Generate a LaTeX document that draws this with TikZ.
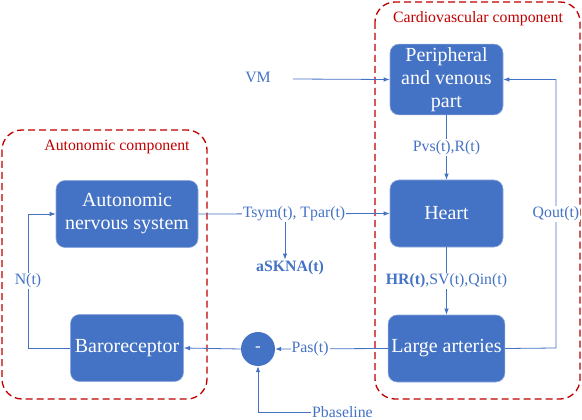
\documentclass[tikz,border=0pt]{standalone}
\usepackage{fontspec}
\setmainfont{Liberation Serif}
\usetikzlibrary{arrows.meta}
\definecolor{boxblue}{HTML}{4472C4}
\definecolor{edgeblue}{HTML}{8FAADC}
\definecolor{compred}{HTML}{C00000}
\tikzset{
  block/.style={draw=edgeblue, line width=0.6pt, fill=boxblue, text=white, rounded corners=9pt,
    minimum width=113pt, minimum height=67pt, align=center, font=\fontsize{20}{23}\selectfont},
  lbl/.style={text=boxblue, fill=white, inner sep=1pt, font=\fontsize{15.8}{18}\selectfont},
  comp/.style={draw=compred, line width=1.3pt, dash pattern=on 7pt off 4pt, rounded corners=20pt},
  comptitle/.style={text=compred, font=\fontsize{15.8}{18}\selectfont}
}
\begin{document}
    \begin{tikzpicture}[x=1pt, y=-1pt]
      \useasboundingbox (0,0) rectangle (582,420);
      \draw[comp] (2,130) rectangle (207,399);
      \draw[comp] (375,2) rectangle (580,399);
      \node[comptitle] (autotitle) at (117,147) {Autonomic component};
      \node[comptitle] (cardiotitle) at (478,19) {Cardiovascular component};
      \node[block, minimum width=142pt] (ans) at (127,214) {Autonomic\\nervous system};
      \node[block] (baro) at (127,348) {Baroreceptor};
      \node[block] (periph) at (446.5,79.5) {Peripheral\\and venous\\part};
      \node[block] (heart) at (446.5,213.5) {Heart};
      \node[block] (arter) at (446.5,348.5) {Large arteries};
      \node[circle, fill=boxblue, text=white, minimum size=34pt, inner sep=0pt,
        font=\fontsize{17}{20}\selectfont] (minus) at (258,349) {-};
      \node[lbl] (vm) at (258,77) {VM};
      \node[lbl, font=\fontsize{15.8}{18}\selectfont\bfseries] (skna) at (290,268) {aSKNA(t)};
      \node[lbl, anchor=west] (pbase) at (311,412) {Pbaseline};
      \coordinate (vmin) at (293,79);
      \coordinate (split) at (285,214);
      \coordinate (nleft) at (28,348);
      \coordinate (qright) at (556,348);
      \begin{scope}[draw=boxblue, line width=0.8pt, -{Latex[length=6pt,width=4.5pt]}]
        \draw (vmin) to (periph.west);
        \draw (split) to (split |- skna.north);
        \draw (periph.south) to node[lbl] {Pvs(t),R(t)} (heart.north);
        \draw (ans.east) to node[lbl] {Tsym(t), Tpar(t)} (heart.west);
        \draw (heart.south) to node[lbl] {\textbf{HR(t)},SV(t),Qin(t)} (arter.north);
        \draw (arter.west) to node[lbl, pos=0.69] {Pas(t)} (minus.east);
        \draw (minus.west) to (baro.east);
        \draw (baro.west) -- (nleft) -- node[lbl] {N(t)} (nleft |- ans.west) -- (ans.west);
        \draw (pbase.west) -| (minus.south);
        \draw (arter.east) -- (qright) -- node[lbl] {Qout(t)} (qright |- periph.east) -- (periph.east);
      \end{scope}
    \end{tikzpicture}
\end{document}
